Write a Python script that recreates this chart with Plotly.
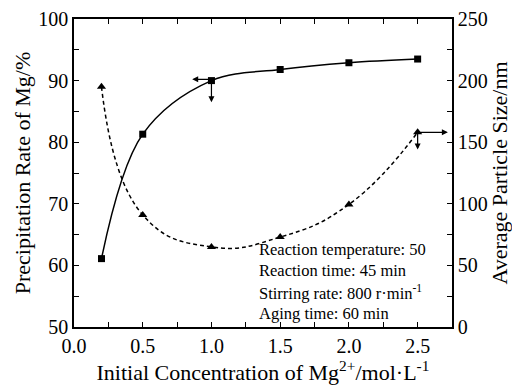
import plotly.graph_objects as go

conc = [0.2, 0.5, 1.0, 1.5, 2.0, 2.5]
precip_rate = [61.1, 81.3, 90.0, 91.8, 92.9, 93.5]
particle_size = [195, 91, 65, 73, 99.5, 158]
x_ticks = [0.0, 0.5, 1.0, 1.5, 2.0, 2.5]
y1_ticks = [50, 60, 70, 80, 90, 100]
y2_ticks = [0, 50, 100, 150, 200, 250]
notes = ["Reaction temperature: 50", "Reaction time: 45 min",
         "Stirring rate: 800 r·min<sup>-1</sup>", "Aging time: 60 min"]

FONT = "Times New Roman, Liberation Serif, serif"
fig = go.Figure()
fig.add_trace(go.Scatter(x=conc, y=precip_rate, mode="lines+markers",
                         line=dict(color="black", width=1.5, shape="spline", smoothing=1.0),
                         marker=dict(symbol="square", size=7, color="black"),
                         showlegend=False))
fig.add_trace(go.Scatter(x=conc, y=particle_size, mode="lines+markers", yaxis="y2",
                         line=dict(color="black", width=1.5, dash="4px,3px", shape="spline", smoothing=1.3),
                         marker=dict(symbol="triangle-up", size=8, color="black"),
                         showlegend=False))

axis_common = dict(showline=True, linecolor="black", linewidth=1.5, ticks="inside",
                   tickcolor="black", ticklen=5, tickwidth=1.2, showgrid=False, zeroline=False,
                   automargin=False,
                   tickfont=dict(family=FONT, size=20, color="black"))

fig.update_layout(
    width=512, height=385, paper_bgcolor="white", plot_bgcolor="white",
    margin=dict(l=74, r=60, t=19, b=58),
    font=dict(family=FONT, color="black"),
    xaxis=dict(range=[0, 2.75], tickvals=x_ticks, ticktext=[f"{v:.1f}" for v in x_ticks],
               mirror="ticks", minor=dict(dtick=0.25, ticks="inside", ticklen=5, tickcolor="black"),
               title=dict(text="Initial Concentration of Mg<sup>2+</sup>/mol·L<sup>-1</sup>",
                          font=dict(family=FONT, size=22), standoff=0),
               **axis_common),
    yaxis=dict(range=[50, 100], tickvals=y1_ticks,
               minor=dict(dtick=5, ticks="inside", ticklen=5, tickcolor="black"),
               title=dict(text="Precipitation Rate of Mg/%", font=dict(family=FONT, size=22), standoff=2),
               **axis_common),
    yaxis2=dict(range=[0, 250], tickvals=y2_ticks, overlaying="y", side="right",
                minor=dict(dtick=25, ticks="inside", ticklen=5, tickcolor="black"),
                title=dict(text="Average Particle Size/nm", font=dict(family=FONT, size=22), standoff=3),
                **axis_common),
)

# indicator arrows
arrow = dict(showarrow=True, arrowhead=2, arrowsize=1, arrowwidth=1.2, arrowcolor="black",
             text="", axref="x", ayref="y")
fig.add_annotation(x=0.86, y=90.2, ax=1.0, ay=90.2, **arrow)
fig.add_annotation(x=1.0, y=86.5, ax=1.0, ay=90.0, **arrow)
fig.add_annotation(x=2.72, y=81.6, ax=2.5, ay=81.6, **arrow)
fig.add_annotation(x=2.5, y=78.8, ax=2.5, ay=81.6, **arrow)

note_y = [62.55, 59.14, 55.57, 52.16]
for t, yy in zip(notes, note_y):
    fig.add_annotation(x=1.33, y=yy, xref="x", yref="y", text=t, showarrow=False,
                       xanchor="left", yanchor="middle",
                       font=dict(family=FONT, size=16.5, color="black"))

fig.write_html("out.html", config={"displayModeBar": False},
               post_script="document.body.style.margin='0';")
